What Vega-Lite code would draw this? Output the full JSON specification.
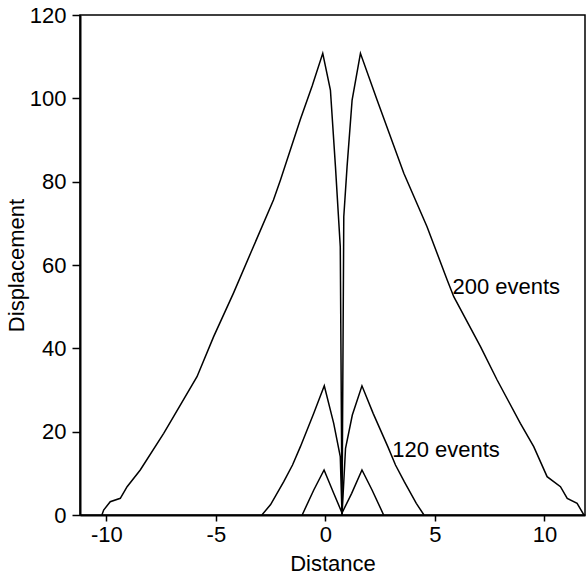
{
  "$schema": "https://vega.github.io/schema/vega-lite/v6.json",
  "width": 505,
  "height": 500,
  "autosize": {"type": "none"},
  "padding": {"left": 80, "top": 15, "right": 1, "bottom": 64},
  "background": "white",
  "config": {
    "font": "Liberation Sans",
    "view": {"stroke": "black", "strokeWidth": 1.5},
    "axis": {
      "grid": false,
      "domainColor": "black",
      "domainWidth": 2,
      "tickColor": "black",
      "tickWidth": 1.5,
      "labelColor": "black",
      "labelFontSize": 22,
      "labelFont": "Liberation Sans",
      "titleColor": "black",
      "titleFontSize": 22,
      "titleFont": "Liberation Sans",
      "titleFontWeight": "normal"
    }
  },
  "datasets": {
    "curves": [
      {"s": "200", "i": 1, "x": -10.2, "y": 0},
      {"s": "200", "i": 2, "x": -10.12, "y": 1.2},
      {"s": "200", "i": 3, "x": -9.82, "y": 3.2},
      {"s": "200", "i": 4, "x": -9.36, "y": 4.0},
      {"s": "200", "i": 5, "x": -9.05, "y": 6.8},
      {"s": "200", "i": 6, "x": -8.45, "y": 10.8},
      {"s": "200", "i": 7, "x": -7.38, "y": 19.6},
      {"s": "200", "i": 8, "x": -6.93, "y": 23.6},
      {"s": "200", "i": 9, "x": -5.86, "y": 33.2},
      {"s": "200", "i": 10, "x": -5.1, "y": 42.8},
      {"s": "200", "i": 11, "x": -4.2, "y": 53.2},
      {"s": "200", "i": 12, "x": -3.4, "y": 63},
      {"s": "200", "i": 13, "x": -2.37, "y": 75.6},
      {"s": "200", "i": 14, "x": -2.05, "y": 80.4},
      {"s": "200", "i": 15, "x": -1.14, "y": 95},
      {"s": "200", "i": 16, "x": -0.6, "y": 103},
      {"s": "200", "i": 17, "x": -0.12, "y": 110.8},
      {"s": "200", "i": 18, "x": 0.23, "y": 102},
      {"s": "200", "i": 19, "x": 0.46, "y": 83.6},
      {"s": "200", "i": 20, "x": 0.68, "y": 64.4},
      {"s": "200", "i": 21, "x": 0.76, "y": 0},
      {"s": "200", "i": 22, "x": 0.84, "y": 71.6},
      {"s": "200", "i": 23, "x": 0.99, "y": 83.6},
      {"s": "200", "i": 24, "x": 1.22, "y": 99.6},
      {"s": "200", "i": 25, "x": 1.6, "y": 110.8},
      {"s": "200", "i": 26, "x": 2.36, "y": 99.6},
      {"s": "200", "i": 27, "x": 3.58, "y": 82},
      {"s": "200", "i": 28, "x": 4.64, "y": 69.2},
      {"s": "200", "i": 29, "x": 5.56, "y": 56.4},
      {"s": "200", "i": 30, "x": 5.86, "y": 52.4},
      {"s": "200", "i": 31, "x": 7.08, "y": 40.4},
      {"s": "200", "i": 32, "x": 7.84, "y": 32.4},
      {"s": "200", "i": 33, "x": 8.9, "y": 22},
      {"s": "200", "i": 34, "x": 9.51, "y": 16.4},
      {"s": "200", "i": 35, "x": 10.12, "y": 9.2},
      {"s": "200", "i": 36, "x": 10.73, "y": 6.8},
      {"s": "200", "i": 37, "x": 11.04, "y": 4.0},
      {"s": "200", "i": 38, "x": 11.49, "y": 2.8},
      {"s": "200", "i": 39, "x": 11.8, "y": 0},
      {"s": "120", "i": 1, "x": -2.9, "y": 0},
      {"s": "120", "i": 2, "x": -2.5, "y": 2.5},
      {"s": "120", "i": 3, "x": -1.9, "y": 8},
      {"s": "120", "i": 4, "x": -1.5, "y": 12},
      {"s": "120", "i": 5, "x": -1.14, "y": 16.4},
      {"s": "120", "i": 6, "x": -0.53, "y": 24.4},
      {"s": "120", "i": 7, "x": -0.05, "y": 31},
      {"s": "120", "i": 8, "x": 0.38, "y": 22},
      {"s": "120", "i": 9, "x": 0.68, "y": 14},
      {"s": "120", "i": 10, "x": 0.76, "y": 0},
      {"s": "120", "i": 11, "x": 0.92, "y": 16},
      {"s": "120", "i": 12, "x": 1.23, "y": 24},
      {"s": "120", "i": 13, "x": 1.67, "y": 31},
      {"s": "120", "i": 14, "x": 2.18, "y": 24.4},
      {"s": "120", "i": 15, "x": 2.85, "y": 16.4},
      {"s": "120", "i": 16, "x": 3.2, "y": 12},
      {"s": "120", "i": 17, "x": 3.6, "y": 8},
      {"s": "120", "i": 18, "x": 4.15, "y": 2.8},
      {"s": "120", "i": 19, "x": 4.5, "y": 0},
      {"s": "40", "i": 1, "x": -1.06, "y": 0},
      {"s": "40", "i": 2, "x": -0.53, "y": 6},
      {"s": "40", "i": 3, "x": -0.06, "y": 10.8},
      {"s": "40", "i": 4, "x": 0.38, "y": 5.2},
      {"s": "40", "i": 5, "x": 0.76, "y": 0.5},
      {"s": "40", "i": 6, "x": 1.2, "y": 5.2},
      {"s": "40", "i": 7, "x": 1.67, "y": 10.8},
      {"s": "40", "i": 8, "x": 2.13, "y": 6},
      {"s": "40", "i": 9, "x": 2.66, "y": 0}
    ],
    "labels": [
      {"x": 5.8, "y": 54.7, "t": "200 events"},
      {"x": 3.05, "y": 15.6, "t": "120 events"}
    ]
  },
  "layer": [
    {
      "data": {"name": "curves"},
      "mark": {"type": "line", "color": "black", "strokeWidth": 1.5, "clip": true},
      "encoding": {
        "x": {
          "field": "x", "type": "quantitative",
          "scale": {"domain": [-11.2, 11.85], "nice": false, "zero": false},
          "axis": {"values": [-10, -5, 0, 5, 10], "title": "Distance", "tickSize": 6, "labelPadding": 3, "titlePadding": 8,
                   "labelExpr": "datum.value < 0 ? '-' + abs(datum.value) : '' + datum.value"}
        },
        "y": {
          "field": "y", "type": "quantitative",
          "scale": {"domain": [0, 120], "nice": false},
          "axis": {"values": [0, 20, 40, 60, 80, 100, 120], "title": "Displacement", "tickSize": 8, "labelPadding": 6, "titlePadding": 1}
        },
        "detail": {"field": "s"},
        "order": {"field": "i", "type": "quantitative"}
      }
    },
    {
      "data": {"name": "labels"},
      "mark": {"type": "text", "align": "left", "baseline": "middle", "fontSize": 22, "font": "Liberation Sans", "color": "black"},
      "encoding": {
        "x": {"field": "x", "type": "quantitative"},
        "y": {"field": "y", "type": "quantitative"},
        "text": {"field": "t"}
      }
    }
  ]
}
